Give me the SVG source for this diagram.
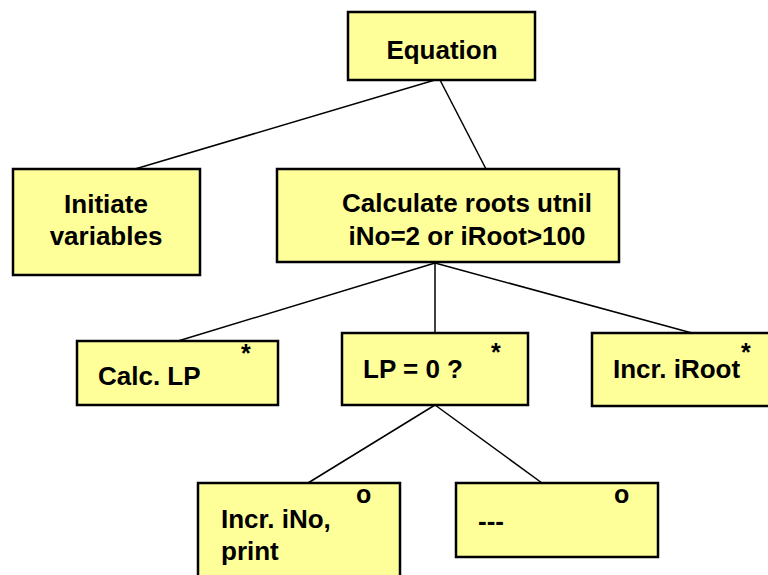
<svg xmlns="http://www.w3.org/2000/svg" width="768" height="575" viewBox="0 0 768 575">
<style>
.box{fill:#FFFF99;stroke:#000;stroke-width:2.5}
.t{font-family:"Liberation Sans",Arial,sans-serif;font-weight:bold;font-size:26px;fill:#000}
.c{text-anchor:middle}
.m{font-family:"Liberation Sans",Arial,sans-serif;font-weight:bold;font-size:25px;fill:#000}
.ln{stroke:#000;stroke-width:1.5;fill:none}
</style>
<rect width="768" height="575" fill="#fff"/>
<g id="connectors">
<line class="ln" x1="435" y1="80" x2="135" y2="169"/>
<line class="ln" x1="440" y1="80" x2="486" y2="169"/>
<line class="ln" x1="435" y1="263" x2="178" y2="341"/>
<line class="ln" x1="435" y1="263" x2="435" y2="333"/>
<line class="ln" x1="435" y1="263" x2="692" y2="333"/>
<line class="ln" x1="435" y1="405" x2="308" y2="483"/>
<line class="ln" x1="435" y1="405" x2="542" y2="483"/>
</g>
<g id="equation">
<rect class="box" x="348" y="12" width="187" height="68"/>
<text class="t c" x="442" y="59">Equation</text>
</g>
<g id="initiate">
<rect class="box" x="13" y="169" width="187" height="106"/>
<text class="t c" x="106" y="213">Initiate</text>
<text class="t c" x="106" y="245">variables</text>
</g>
<g id="calculate">
<rect class="box" x="277" y="169" width="342" height="93"/>
<text class="t c" x="467" y="212">Calculate roots utnil</text>
<text class="t c" x="467" y="245">iNo=2 or iRoot&gt;100</text>
</g>
<g id="calclp">
<rect class="box" x="77" y="341" width="201" height="64"/>
<text class="t" x="98" y="385">Calc. LP</text>
<text class="m" x="241" y="362">*</text>
</g>
<g id="lp0">
<rect class="box" x="342" y="333" width="186" height="72"/>
<text class="t" x="363" y="378">LP = 0 ?</text>
<text class="m" x="491" y="361">*</text>
</g>
<g id="incrroot">
<rect class="box" x="592" y="333" width="190" height="73"/>
<text class="t" x="613" y="378">Incr. iRoot</text>
<text class="m" x="741" y="361">*</text>
</g>
<g id="incrno">
<rect class="box" x="198" y="483" width="202" height="110"/>
<text class="t" x="221" y="528">Incr. iNo,</text>
<text class="t" x="221" y="560">print</text>
<text class="m" x="356" y="503">o</text>
</g>
<g id="dashes">
<rect class="box" x="456" y="483" width="202" height="74"/>
<text class="t" x="478" y="530">---</text>
<text class="m" x="614" y="503">o</text>
</g>
</svg>
